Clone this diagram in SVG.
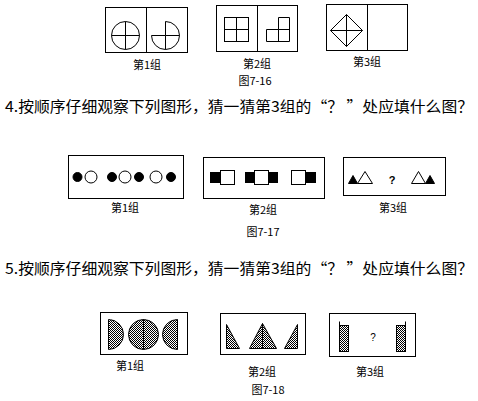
<svg xmlns="http://www.w3.org/2000/svg" width="478" height="401" viewBox="0 0 478 401">
<style>
.ln{fill:none;stroke:#000;stroke-width:1}
.wf{fill:#fff;stroke:#000;stroke-width:1}
.bk{fill:#000;stroke:#000;stroke-width:1}
.ht{fill:url(#hatch);stroke:#000;stroke-width:1}
.lb{font-family:"Noto Sans CJK SC","Liberation Sans",sans-serif;font-size:11px;fill:#000;text-anchor:middle}
.hd{font-family:"Noto Sans CJK SC","Liberation Sans",sans-serif;font-size:15px;fill:#000}
</style>
<defs>
<pattern id="hatch" width="2" height="2" patternUnits="userSpaceOnUse">
<rect width="2" height="2" fill="#fff"/>
<rect x="0" y="0" width="1" height="1" fill="#000"/>
<rect x="1" y="1" width="1" height="1" fill="#000"/>
</pattern>
</defs>
<rect width="478" height="401" fill="#fff"/>

<!-- Row 1 -->
<g id="r1g1">
<rect class="ln" x="105.5" y="7.5" width="82" height="45"/>
<line class="ln" x1="146.5" y1="7.5" x2="146.5" y2="52.5"/>
<circle class="ln" cx="125.5" cy="35.5" r="14"/>
<line class="ln" x1="111.5" y1="35.5" x2="139.5" y2="35.5"/>
<line class="ln" x1="125.5" y1="21.5" x2="125.5" y2="49.5"/>
<path class="ln" d="M165.5,21.5 A14,14 0 1 1 151.5,35.5 L165.5,35.5 Z"/>
<line class="ln" x1="165.5" y1="35.5" x2="179.5" y2="35.5"/>
<line class="ln" x1="165.5" y1="35.5" x2="165.5" y2="49.5"/>
<text class="lb" x="147" y="69">第1组</text>
</g>
<g id="r1g2">
<rect class="ln" x="216.5" y="5.5" width="81" height="46"/>
<line class="ln" x1="257.5" y1="5.5" x2="257.5" y2="51.5"/>
<rect class="ln" x="224.5" y="17.5" width="24" height="24"/>
<line class="ln" x1="236.5" y1="17.5" x2="236.5" y2="41.5"/>
<line class="ln" x1="224.5" y1="29.5" x2="248.5" y2="29.5"/>
<path class="ln" d="M278.5,17.5 H289.5 V41.5 H266.5 V29.5 H278.5 Z"/>
<line class="ln" x1="278.5" y1="29.5" x2="289.5" y2="29.5"/>
<line class="ln" x1="278.5" y1="29.5" x2="278.5" y2="41.5"/>
<text class="lb" x="257" y="68">第2组</text>
</g>
<g id="r1g3">
<rect class="ln" x="326.5" y="4.5" width="81" height="46"/>
<line class="ln" x1="367.5" y1="4.5" x2="367.5" y2="50.5"/>
<polygon class="ln" points="346.5,14.5 362.5,30.5 346.5,46.5 330.5,30.5"/>
<line class="ln" x1="330.5" y1="30.5" x2="362.5" y2="30.5"/>
<line class="ln" x1="346.5" y1="14.5" x2="346.5" y2="46.5"/>
<text class="lb" x="367" y="66">第3组</text>
</g>
<text class="lb" x="255" y="85">图7-16</text>

<text class="hd" x="5" y="112" textLength="468" lengthAdjust="spacingAndGlyphs">4.按顺序仔细观察下列图形，猜一猜第3组的“？ ”处应填什么图？</text>

<!-- Row 2 -->
<g id="r2g1">
<rect class="ln" x="68.5" y="155.5" width="115" height="43"/>
<circle class="bk" cx="77.5" cy="177" r="4.5"/>
<circle class="wf" cx="91" cy="177" r="6"/>
<circle class="bk" cx="112" cy="177" r="4.5"/>
<circle class="wf" cx="125" cy="177" r="6"/>
<circle class="bk" cx="139" cy="177" r="4.5"/>
<circle class="wf" cx="156" cy="177" r="6"/>
<circle class="bk" cx="171" cy="177" r="4.5"/>
<text class="lb" x="125" y="212">第1组</text>
</g>
<g id="r2g2">
<rect class="ln" x="203.5" y="157.5" width="121" height="41"/>
<rect class="bk" x="210.5" y="172.5" width="10" height="10"/>
<rect class="wf" x="220.5" y="170.5" width="14" height="14"/>
<rect class="bk" x="245.5" y="172.5" width="9" height="10"/>
<rect class="bk" x="268.5" y="172.5" width="9" height="10"/>
<rect class="wf" x="254.5" y="170.5" width="14" height="14"/>
<rect class="bk" x="305.5" y="172.5" width="10" height="10"/>
<rect class="wf" x="291.5" y="170.5" width="14" height="14"/>
<text class="lb" x="263" y="214">第2组</text>
</g>
<g id="r2g3">
<rect class="ln" x="343.5" y="157.5" width="102" height="38"/>
<polygon class="bk" points="348.5,183.5 357.5,183.5 353,175.5"/>
<polygon class="wf" points="357.5,183.5 372.5,183.5 365,171.5"/>
<text x="392" y="184" font-family="Liberation Sans, sans-serif" font-size="11" font-weight="bold" text-anchor="middle">?</text>
<polygon class="wf" points="411.5,183.5 425.5,183.5 418.5,171.5"/>
<polygon class="bk" points="425.5,183.5 434.5,183.5 430,175.5"/>
<text class="lb" x="393" y="212">第3组</text>
</g>
<text class="lb" x="263" y="236">图7-17</text>

<text class="hd" x="5" y="274" textLength="468" lengthAdjust="spacingAndGlyphs">5.按顺序仔细观察下列图形，猜一猜第3组的“？ ”处应填什么图？</text>

<!-- Row 3 -->
<g id="r3g1">
<rect class="ln" x="100.5" y="312.5" width="87" height="42"/>
<path class="ht" d="M108.5,319.5 A15,15 0 0 1 108.5,349.5 Z"/>
<circle class="ht" cx="143.5" cy="334.5" r="15"/>
<line class="ln" x1="143.5" y1="319.5" x2="143.5" y2="349.5"/>
<path class="ht" d="M177.5,319.5 A15,15 0 0 0 177.5,349.5 Z"/>
<text class="lb" x="130" y="370">第1组</text>
</g>
<g id="r3g2">
<rect class="ln" x="220.5" y="313.5" width="85" height="41"/>
<polygon class="ht" points="226.5,324.5 226.5,348.5 239.5,348.5"/>
<polygon class="ht" points="262.5,323.5 249.5,348.5 276.5,348.5"/>
<line class="ln" x1="262.5" y1="323.5" x2="262.5" y2="348.5"/>
<polygon class="ht" points="297.5,324.5 297.5,348.5 284.5,348.5"/>
<text class="lb" x="262" y="376">第2组</text>
</g>
<g id="r3g3">
<rect class="ln" x="329.5" y="313.5" width="86" height="43"/>
<line class="ln" x1="339.5" y1="321.5" x2="339.5" y2="351.5"/>
<rect class="ht" x="339.5" y="325.5" width="9" height="26"/>
<rect class="ht" x="396.5" y="325.5" width="9" height="26"/>
<line class="ln" x1="405.5" y1="321.5" x2="405.5" y2="351.5"/>
<text x="373" y="341" font-family="Liberation Sans, sans-serif" font-size="10" text-anchor="middle">?</text>
<text class="lb" x="370" y="376">第3组</text>
</g>
<text class="lb" x="268" y="394">图7-18</text>
</svg>
